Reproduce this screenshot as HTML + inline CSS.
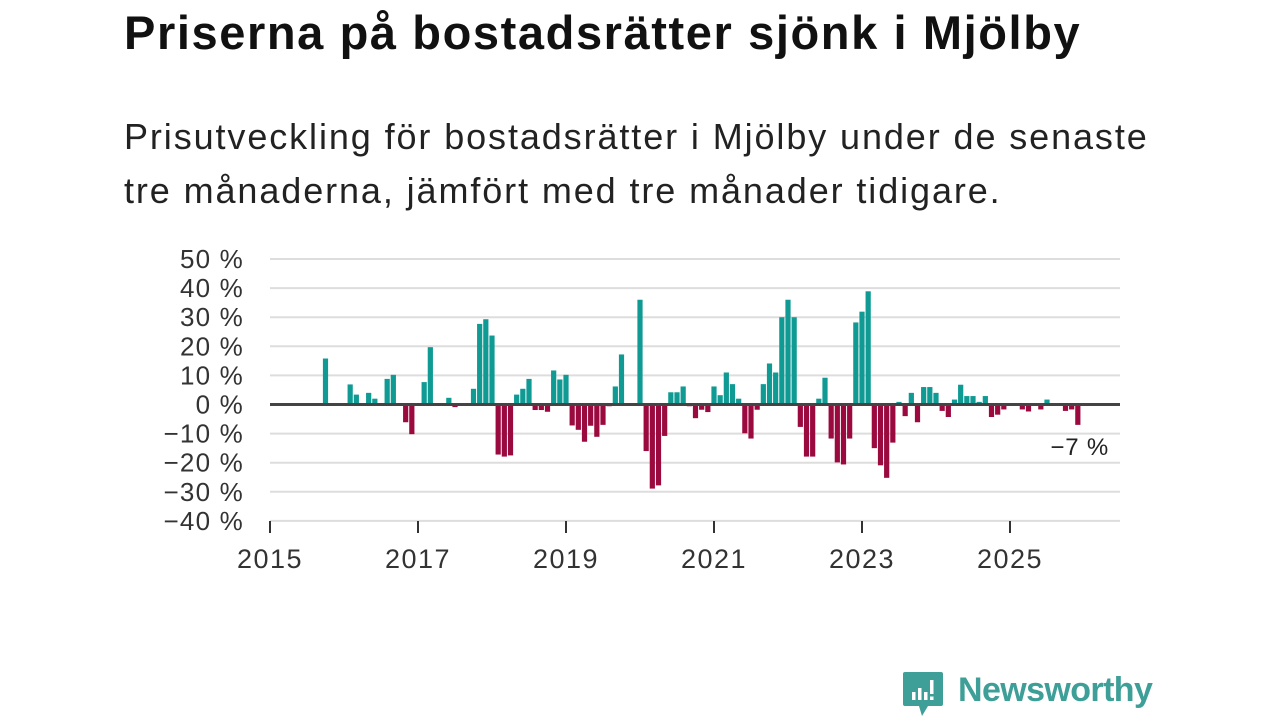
<!DOCTYPE html>
<html><head><meta charset="utf-8"><style>
body{margin:0;width:1280px;height:720px;background:#fff;font-family:"Liberation Sans",sans-serif;overflow:hidden;position:relative}
#title{position:absolute;left:124px;top:5px;font-size:47px;font-weight:bold;color:#111;letter-spacing:1.6px;white-space:nowrap}
#sub{position:absolute;left:124px;top:110px;font-size:36px;line-height:54px;color:#222;letter-spacing:1.9px;white-space:nowrap}
svg{position:absolute;left:0;top:0}
</style></head><body>
<div id="title">Priserna på bostadsrätter sjönk i Mjölby</div>
<div id="sub">Prisutveckling för bostadsrätter i Mjölby under de senaste<br>tre månaderna, jämfört med tre månader tidigare.</div>
<svg id="chart" width="1280" height="720"></svg>
<script>
const startYear = 2015;
// monthly values (% change), index 0 = Jan 2015; null = no bar
const values = [null,null,null,null,null,null,null,null,null,15.8,null,null,null,6.9,3.4,null,4,2,null,8.8,10.2,null,-6.1,-10.2,null,7.7,19.7,null,null,2.3,-0.9,null,0.5,5.4,27.7,29.3,23.7,-17.2,-17.9,-17.5,3.4,5.4,8.8,-1.9,-1.9,-2.5,11.7,8.6,10.2,-7.2,-8.7,-12.8,-7.3,-11.1,-7,-0.6,6.2,17.2,null,null,36,-16,-28.9,-27.8,-10.8,4.2,4.2,6.2,-0.6,-4.7,-1.8,-2.6,6.2,3.2,11,7,2,-9.9,-11.7,-1.8,7,14.1,11,30,36,30,-7.7,-17.9,-17.9,2,9.2,-11.7,-19.9,-20.6,-11.7,28.2,31.9,38.9,-15,-20.9,-25.2,-13.1,0.9,-4,4,-6.1,6,6,4,-2.2,-4.3,1.7,6.8,2.9,2.9,0.9,2.9,-4.3,-3.5,-1.7,-0.5,-0.5,-1.7,-2.4,null,-1.7,1.7,null,null,-2.2,-1.7,-7];
const yTicks = [50,40,30,20,10,0,-10,-20,-30,-40];
const yTickLabels = ["50 %","40 %","30 %","20 %","10 %","0 %","−10 %","−20 %","−30 %","−40 %"];
const xTicks = [2015,2017,2019,2021,2023,2025];
const lastLabel = "−7 %";

const svg = document.getElementById('chart');
const NS = 'http://www.w3.org/2000/svg';
const X0=270, X1=1120, Y0=404.5, PER10=29.1, PERYEAR=74;
const xScale = m => X0 + m*PERYEAR/12;
const yScale = v => Y0 - v*PER10/10;
function mk(tag, attrs){const e=document.createElementNS(NS,tag);for(const k in attrs)e.setAttribute(k,attrs[k]);svg.appendChild(e);return e;}

yTicks.forEach((t,i)=>{
  if(t!==0){
    const g=mk('line',{x1:X0,x2:X1,y1:yScale(t),y2:yScale(t),stroke:'#ddd','stroke-width':2});
    
    
  }
  const tx=mk('text',{x:244,y:yScale(t)+9,'text-anchor':'end','font-size':26,'letter-spacing':1.2,fill:'#333','font-family':'Liberation Sans, sans-serif'});
  tx.textContent=yTickLabels[i];
  
  
});
values.forEach((v,i)=>{
  if(v===null) return;
  const y=yScale(Math.max(v,0)), h=Math.abs(yScale(v)-Y0);
  const b=mk('rect',{x:xScale(i)-2.6,y:y,width:5.2,height:h,fill:v>=0?'#0f9a94':'#9b0a3f'});
  
  
});
const zl=mk('line',{x1:X0,x2:X1,y1:Y0,y2:Y0,stroke:'#444','stroke-width':3});


xTicks.forEach(yr=>{
  const x=xScale((yr-startYear)*12);
  const tk=mk('line',{x1:x,x2:x,y1:521,y2:533,stroke:'#333','stroke-width':2});
  
  
  const t=mk('text',{x:x,y:568,'text-anchor':'middle','font-size':27,'letter-spacing':1.5,fill:'#333','font-family':'Liberation Sans, sans-serif'});
  t.textContent=String(yr);
  
  
});
const ll=mk('text',{x:1109,y:455,'text-anchor':'end','font-size':24,'letter-spacing':0.8,fill:'#222','font-family':'Liberation Sans, sans-serif'});
ll.textContent=lastLabel;


</script>
<div style="position:absolute;left:902px;top:670px;height:48px;">
  <svg width="44" height="50" style="position:absolute;left:0;top:0">
    <path d="M3 2 H39 Q41 2 41 4 V34 Q41 36 39 36 H26 L20 46 L17 36 H3 Q1 36 1 34 V4 Q1 2 3 2Z" fill="#3d9f97"/>
    <rect x="10" y="22" width="3.5" height="8" fill="#fff"/><rect x="16" y="18" width="3.5" height="12" fill="#fff"/><rect x="22" y="22" width="3.5" height="8" fill="#fff"/><rect x="28" y="10" width="3.5" height="14" fill="#fff"/><rect x="28" y="26.5" width="3.5" height="3.5" fill="#fff"/>
  </svg>
  <span style="position:absolute;left:56px;top:1px;font-size:34px;color:#3d9f97;font-weight:bold;letter-spacing:-0.6px;white-space:nowrap">Newsworthy</span>
</div>
</body></html>
